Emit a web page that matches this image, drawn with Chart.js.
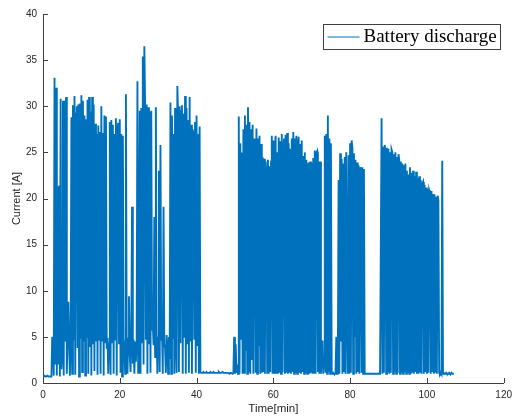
<!DOCTYPE html>
<html>
<head>
<meta charset="utf-8">
<script src="https://cdn.jsdelivr.net/npm/chart.js@4.4.1/dist/chart.umd.min.js"></script>
<style>
  html, body { margin: 0; padding: 0; background: #fff; }
  #wrap { width: 518px; height: 419px; }
</style>
</head>
<body>
<div id="wrap"><canvas id="chartArus" width="518" height="419"></canvas></div>
<script>
const sampleStepMin = 0.2;
const seriesLabel = "Battery discharge";
const xTicks = [0, 20, 40, 60, 80, 100, 120];
const yTicks = [0, 5, 10, 15, 20, 25, 30, 35, 40];
// one row = 2 minutes (10 samples)
const currentA = [
  0.7, 0.7, 0.8, 0.7, 0.7, 0.7, 0.8, 0.7, 0.7, 0.7,
  0.7, 0.7, 5.0, 4.4, 0.8, 33.1, 2.0, 32.0, 0.8, 21.3,
  2.0, 21.4, 0.7, 30.8, 1.5, 3.0, 30.6, 0.8, 30.6, 4.5,
  31.0, 1.0, 4.8, 8.8, 4.7, 0.8, 4.0, 28.8, 1.0, 30.1,
  4.6, 31.1, 0.9, 29.2, 30.0, 3.8, 30.2, 0.7, 30.3, 4.8,
  31.2, 1.2, 30.6, 4.5, 29.0, 0.8, 28.6, 4.9, 30.7, 1.0,
  31.0, 3.9, 29.4, 0.8, 31.0, 4.2, 30.2, 1.3, 28.1, 4.5,
  27.0, 0.9, 27.9, 4.7, 27.2, 1.0, 30.0, 4.6, 27.1, 0.8,
  29.0, 4.4, 28.9, 3.7, 4.9, 1.0, 4.3, 28.3, 0.9, 28.5,
  4.4, 28.0, 1.0, 27.0, 4.7, 28.7, 0.8, 27.5, 28.2, 4.3,
  28.6, 1.1, 27.0, 0.7, 26.8, 4.9, 3.9, 1.0, 31.3, 4.6,
  1.0, 4.8, 9.4, 3.2, 1.2, 5.0, 19.1, 2.1, 4.7, 1.0,
  4.5, 2.3, 4.6, 32.7, 1.1, 4.9, 29.5, 1.0, 29.8, 4.4,
  35.4, 2.0, 36.5, 30.0, 4.7, 30.2, 1.0, 29.9, 4.2, 29.4,
  1.1, 29.5, 5.8, 6.5, 4.1, 18.0, 2.8, 29.9, 5.4, 1.0,
  4.9, 23.0, 1.2, 25.8, 4.6, 5.6, 1.0, 19.1, 4.2, 3.8,
  1.1, 5.2, 4.0, 1.0, 5.0, 2.6, 30.4, 1.0, 29.0, 4.8,
  27.0, 1.0, 29.8, 4.6, 1.1, 32.2, 29.0, 1.2, 30.0, 4.3,
  29.5, 30.1, 1.0, 29.2, 4.9, 31.1, 1.0, 29.8, 4.2, 28.5,
  1.1, 31.0, 4.5, 28.0, 1.0, 27.5, 26.8, 4.7, 28.3, 1.1,
  29.0, 4.0, 27.0, 1.0, 27.8, 1.2, 1.1, 1.1, 1.1, 1.2,
  1.1, 1.1, 1.1, 1.2, 1.1, 1.1, 1.1, 1.1, 1.2, 1.1,
  1.1, 1.1, 1.2, 1.1, 1.1, 1.1, 1.1, 1.1, 1.1, 1.2,
  1.1, 1.1, 1.1, 1.1, 1.2, 1.1, 1.1, 1.1, 1.1, 1.1,
  1.1, 1.1, 1.1, 1.0, 1.1, 1.1, 1.1, 1.0, 1.1, 5.0,
  1.0, 4.2, 1.1, 2.0, 1.0, 28.9, 1.0, 26.0, 4.8, 25.0,
  1.0, 27.5, 1.1, 29.0, 3.5, 28.0, 1.0, 29.9, 1.2, 28.3,
  1.0, 27.5, 2.5, 28.0, 1.0, 26.5, 25.5, 1.1, 27.6, 1.0,
  26.5, 4.0, 26.8, 1.0, 25.9, 1.1, 24.5, 1.2, 24.3, 1.0,
  24.0, 22.7, 1.1, 24.2, 1.0, 23.5, 1.2, 24.0, 26.8, 1.0,
  26.3, 1.1, 25.5, 26.8, 1.0, 25.0, 1.0, 26.6, 1.1, 26.2,
  1.0, 27.0, 1.2, 25.5, 26.5, 1.0, 26.9, 1.1, 27.1, 1.0,
  26.0, 1.1, 25.4, 1.0, 26.5, 1.2, 27.2, 1.0, 26.5, 1.1,
  26.8, 1.0, 25.8, 26.7, 1.1, 25.9, 1.0, 26.3, 1.2, 24.6,
  1.0, 25.0, 1.1, 24.2, 1.0, 23.4, 23.9, 1.0, 24.0, 1.1,
  23.9, 1.0, 24.4, 1.1, 25.2, 1.0, 24.9, 25.1, 1.2, 24.0,
  1.0, 24.0, 1.0, 3.5, 4.6, 1.0, 2.5, 26.8, 1.1, 27.0,
  1.0, 29.0, 1.2, 26.5, 1.0, 26.0, 1.0, 1.0, 1.1, 1.0,
  1.0, 1.0, 5.0, 1.0, 1.1, 22.0, 1.0, 24.9, 4.5, 24.3,
  1.0, 23.8, 1.2, 24.5, 1.0, 25.0, 9.0, 1.0, 24.7, 1.0,
  26.0, 1.1, 26.3, 25.5, 1.0, 24.9, 5.0, 24.2, 1.0, 23.9,
  1.2, 23.6, 1.0, 23.4, 16.0, 1.1, 23.4, 1.0, 23.2, 1.0,
  1.0, 1.0, 1.0, 1.0, 1.0, 1.0, 1.0, 1.0, 1.0, 1.0,
  1.0, 1.0, 1.0, 1.0, 1.0, 1.0, 1.0, 1.0, 1.0, 1.0,
  1.0, 28.7, 1.0, 25.6, 1.1, 25.8, 25.2, 1.0, 25.5, 1.2,
  25.4, 1.0, 25.0, 1.1, 25.3, 25.0, 1.0, 24.8, 1.2, 25.0,
  1.0, 24.5, 1.1, 24.8, 24.2, 1.0, 24.0, 1.1, 23.8, 1.0,
  23.6, 1.2, 23.8, 1.0, 23.0, 1.1, 22.6, 1.0, 23.4, 1.0,
  22.8, 1.1, 23.0, 1.0, 22.4, 1.2, 22.9, 1.0, 22.2, 1.0,
  22.4, 1.1, 22.0, 1.0, 21.6, 21.8, 1.0, 21.5, 1.2, 21.2,
  1.0, 21.0, 1.1, 20.9, 20.6, 1.0, 20.8, 1.2, 20.5, 1.0,
  20.4, 1.1, 20.2, 1.0, 20.3, 19.8, 1.1, 1.0, 1.2, 1.0,
  24.1, 1.0, 1.1, 1.0, 1.0, 1.1, 1.0, 1.0, 1.0, 1.1,
  1.0, 1.0, 1.1, 1.0, 1.0, 1.0
];

const lineBlue = "#0072BD";
const axisColor = "#404040";
const textColor = "#262626";

const points = currentA.map(function (v, i) {
  return { x: +(i * sampleStepMin).toFixed(1), y: v };
});

/* start plugins */
// MATLAB style ticks pointing into the plot
const inwardTicks = {
  id: "inwardTicks",
  afterDraw(chart) {
    const ctx = chart.ctx;
    const area = chart.chartArea;
    const sx = chart.scales.x;
    const sy = chart.scales.y;
    ctx.save();
    ctx.strokeStyle = axisColor;
    ctx.lineWidth = 1;
    ctx.beginPath();
    sx.ticks.forEach(function (t) {
      const px = Math.round(sx.getPixelForValue(t.value)) + 0.5;
      ctx.moveTo(px, area.bottom);
      ctx.lineTo(px, area.bottom - 5);
    });
    sy.ticks.forEach(function (t) {
      const py = Math.round(sy.getPixelForValue(t.value)) + 0.5;
      ctx.moveTo(area.left, py);
      ctx.lineTo(area.left + 5, py);
    });
    ctx.stroke();
    ctx.restore();
  },
};

// legend box in the upper right corner
const boxLegend = {
  id: "boxLegend",
  afterDraw(chart) {
    const ctx = chart.ctx;
    const ds = chart.data.datasets[0];
    const bx = 323.5, by = 24.5, bw = 177, bh = 25;
    ctx.save();
    ctx.fillStyle = "#ffffff";
    ctx.fillRect(bx, by, bw, bh);
    ctx.strokeStyle = axisColor;
    ctx.lineWidth = 1;
    ctx.strokeRect(bx, by, bw, bh);
    ctx.strokeStyle = ds.borderColor;
    ctx.beginPath();
    ctx.moveTo(bx + 4, by + 12.5);
    ctx.lineTo(bx + 36, by + 12.5);
    ctx.stroke();
    ctx.fillStyle = "#000000";
    ctx.font = '19px "Liberation Serif"';
    ctx.textBaseline = "middle";
    ctx.textAlign = "left";
    ctx.fillText(ds.label, bx + 40, by + 13);
    ctx.restore();
  },
};
/* end plugins */

const cArus = document.getElementById("chartArus");
new Chart(cArus, {
  type: "line",
  data: {
    datasets: [
      {
        label: seriesLabel,
        data: points,
        borderColor: lineBlue,
        borderWidth: 1.9,
        borderJoinStyle: "miter",
        pointRadius: 0,
        tension: 0,
        fill: false,
      },
    ],
  },
  options: {
    responsive: false,
    animation: false,
    layout: { padding: { left: 0, top: 14, right: 6, bottom: 0 } },
    plugins: {
      legend: { display: false },
      tooltip: { enabled: false },
    },
    scales: {
      x: {
        type: "linear",
        min: 0,
        max: 120,
        afterFit: function (s) { s.height = 36; },
        afterBuildTicks: function (s) { s.ticks = xTicks.map(function (v) { return { value: v }; }); },
        grid: { display: false, drawTicks: false },
        border: { display: true, color: axisColor, width: 1 },
        ticks: { padding: 6, color: textColor, font: { family: "Liberation Sans", size: 10 }, maxRotation: 0 },
        title: {
          display: true,
          text: "Time[min]",
          color: textColor,
          font: { family: "Liberation Sans", size: 11.5 },
          padding: { top: 0, bottom: 3 },
        },
      },
      y: {
        min: 0,
        max: 40,
        afterFit: function (s) { s.width = 43; },
        afterBuildTicks: function (s) { s.ticks = yTicks.map(function (v) { return { value: v }; }); },
        grid: { display: false, drawTicks: false },
        border: { display: true, color: axisColor, width: 1 },
        ticks: { padding: 6, color: textColor, font: { family: "Liberation Sans", size: 10 } },
        title: {
          display: true,
          text: "Current [A]",
          color: textColor,
          font: { family: "Liberation Sans", size: 11 },
          padding: { top: 10, bottom: 0 },
        },
      },
    },
  },
  plugins: [inwardTicks, boxLegend],
});
</script>
</body>
</html>
